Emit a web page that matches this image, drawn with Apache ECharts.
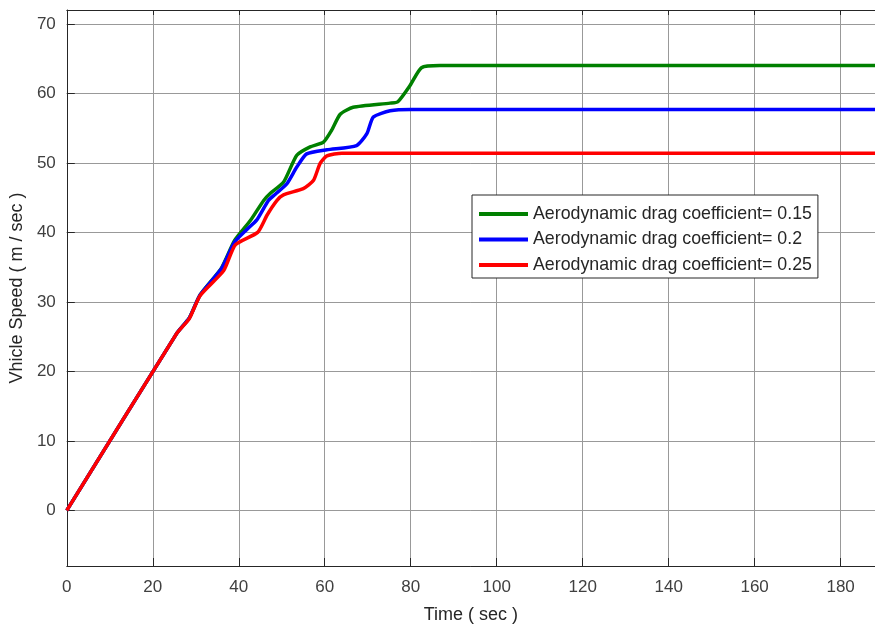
<!DOCTYPE html>
<html>
<head>
<meta charset="utf-8">
<script src="https://cdn.jsdelivr.net/npm/echarts@6/dist/echarts.min.js"></script>
<style>html,body{margin:0;padding:0;background:#fff}#c{width:875px;height:630px}</style>
</head>
<body>
<div id="c"></div>
<script>
const seriesNames = ['Aerodynamic drag coefficient= 0.15','Aerodynamic drag coefficient= 0.2','Aerodynamic drag coefficient= 0.25'];
const xTicks = [0,20,40,60,80,100,120,140,160,180];
const yTicks = [0,10,20,30,40,50,60,70];
const green = [[0,0],[25.5,25.4],[28.5,27.7],[31,31],[36,34.9],[39,38.8],[42.7,41.7],[45.8,44.6],[47.3,45.6],[50.4,47.2],[53.5,51.1],[56.6,52.3],[59.7,53.0],[61.6,54.7],[63.6,57],[66.6,58],[75.2,58.6],[77,58.8],[79.8,61.1],[82.5,63.7],[86.8,64],[188,64]];
const blue = [[0,0],[25.5,25.4],[28.5,27.7],[31,31],[36,34.8],[39,38.6],[42,40.5],[44.2,41.8],[46.9,44.6],[48.5,45.5],[51.2,47],[53.5,49.4],[55.8,51.3],[60.5,51.9],[67.4,52.5],[69.8,54.2],[71.3,56.6],[75.2,57.5],[80,57.7],[188,57.7]];
const red = [[0,0],[25.5,25.4],[28.5,27.6],[31,30.9],[36.5,34.5],[39.2,38.2],[44.4,40],[46.6,42.5],[48.9,44.6],[50.4,45.4],[55,46.3],[57.4,47.5],[58.9,49.9],[60.5,51],[64,51.4],[188,51.4]];
const colors = ['#008000','#0000ff','#ff0000'];

const chart = echarts.init(document.getElementById('c'), null, {renderer:'canvas'});
const font = 'Liberation Sans, Arial, sans-serif';
const mk = (name, data, color) => ({
  name, type:'line', data, showSymbol:false, smooth:0.2,
  lineStyle:{color, width:3.5}, itemStyle:{color}, animation:false
});
chart.setOption({
  animation:false,
  grid:{left:66, right:0, top:10, bottom:64, containLabel:false},
  legend:{
    orient:'vertical', left:472, top:195,
    padding:[10,6,4,7], itemGap:7.5,
    backgroundColor:'#fff', borderColor:'#262626', borderWidth:1,
    itemWidth:49, itemHeight:4, icon:'rect',
    textStyle:{fontFamily:font, fontSize:17.8, color:'#262626', lineHeight:17},
    data:seriesNames
  },
  xAxis:[{
    type:'value', min:0, max:188, position:'bottom',
    name:'Time ( sec )', nameLocation:'middle', nameGap:40,
    nameTextStyle:{fontFamily:font, fontSize:18, color:'#262626'},
    axisLine:{show:true, onZero:false, lineStyle:{color:'#262626', width:1}},
    axisTick:{show:true, inside:true, length:8, customValues:xTicks, lineStyle:{color:'#262626'}},
    axisLabel:{customValues:xTicks, fontFamily:font, fontSize:17, color:'#404040', margin:13},
    splitLine:{show:true, lineStyle:{color:'#999999', width:1}}
  },{
    type:'value', min:0, max:188, position:'top',
    axisLine:{show:true, onZero:false, lineStyle:{color:'#262626', width:1}},
    axisTick:{show:true, inside:true, length:5, customValues:xTicks, lineStyle:{color:'#262626'}},
    axisLabel:{show:false}, splitLine:{show:false}
  }],
  yAxis:{
    type:'value', min:-8, max:72,
    name:'Vhicle Speed ( m / sec )', nameLocation:'middle', nameGap:37,
    nameTextStyle:{fontFamily:font, fontSize:18, color:'#262626'},
    axisLine:{show:true, onZero:false, lineStyle:{color:'#262626', width:1}},
    axisTick:{show:true, inside:true, length:8, customValues:yTicks, lineStyle:{color:'#262626'}},
    axisLabel:{customValues:yTicks, fontFamily:font, fontSize:17, color:'#404040', margin:11},
    splitLine:{show:true, lineStyle:{color:'#999999', width:1}}
  },
  series:[mk(seriesNames[0], green, colors[0]), mk(seriesNames[1], blue, colors[1]), mk(seriesNames[2], red, colors[2])]
});
</script>
</body>
</html>
